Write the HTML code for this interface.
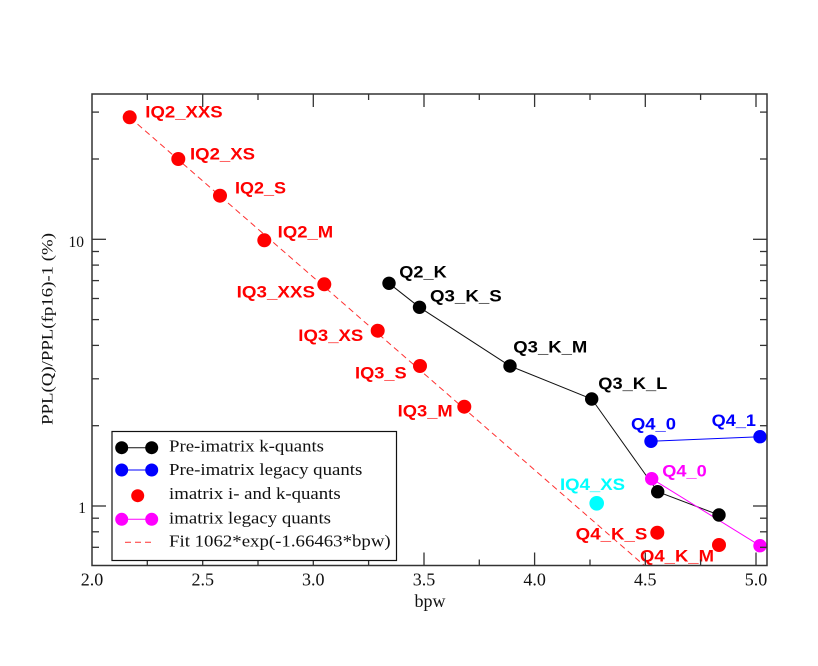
<!DOCTYPE html>
<html><head><meta charset="utf-8"><style>
html,body{margin:0;padding:0;background:#fff;}
svg{display:block;}
.lab{font-family:"Liberation Sans",Arial,sans-serif;font-weight:bold;font-size:16.5px;}
.ser{font-family:"Liberation Serif","Times New Roman",serif;}
</style></head><body>
<svg width="818" height="666" viewBox="0 0 818 666" xmlns="http://www.w3.org/2000/svg">
<rect width="818" height="666" fill="#fff"/>

<!-- fit line -->
<line x1="130" y1="117.6" x2="644.3" y2="565.5" stroke="#ff3030" stroke-width="1" stroke-dasharray="6,4"/>

<!-- black series -->
<polyline points="389,283.3 419.5,307.3 510,366 591.7,399 657.7,491.7 719,515" fill="none" stroke="#111" stroke-width="1"/>
<!-- blue series -->
<polyline points="651,441.3 760,436.7" fill="none" stroke="#0000ff" stroke-width="1"/>
<!-- magenta series -->
<polyline points="651.7,478.7 760,545.7" fill="none" stroke="#ff00ff" stroke-width="1"/>

<!-- red points -->
<g fill="#ff0000">
<circle cx="129.7" cy="117.3" r="7"/>
<circle cx="178.3" cy="159" r="7"/>
<circle cx="220" cy="195.7" r="7"/>
<circle cx="264.3" cy="240.3" r="7"/>
<circle cx="324.3" cy="284.3" r="7"/>
<circle cx="377.7" cy="330.7" r="7"/>
<circle cx="420" cy="366" r="7"/>
<circle cx="464.3" cy="406.7" r="7"/>
<circle cx="657.3" cy="532.7" r="7"/>
<circle cx="719" cy="545" r="7"/>
</g>
<!-- black points -->
<g fill="#000">
<circle cx="389" cy="283.3" r="6.7"/>
<circle cx="419.5" cy="307.3" r="6.7"/>
<circle cx="510" cy="366" r="6.7"/>
<circle cx="591.7" cy="399" r="6.7"/>
<circle cx="657.7" cy="491.7" r="6.7"/>
<circle cx="719" cy="515" r="6.7"/>
</g>
<!-- blue -->
<g fill="#0000ff">
<circle cx="651" cy="441.3" r="6.7"/>
<circle cx="760" cy="436.7" r="6.7"/>
</g>
<!-- magenta -->
<g fill="#ff00ff">
<circle cx="651.7" cy="478.7" r="6.7"/>
<circle cx="760" cy="545.7" r="6.7"/>
</g>
<!-- cyan -->
<circle cx="596.7" cy="503.3" r="7.3" fill="#00ffff"/>

<!-- labels -->
<g class="lab" fill="#ff0000">
<text x="145.3" y="117.3" textLength="77.4" lengthAdjust="spacingAndGlyphs">IQ2_XXS</text>
<text x="190" y="159.3" textLength="65" lengthAdjust="spacingAndGlyphs">IQ2_XS</text>
<text x="235" y="193.5" textLength="51" lengthAdjust="spacingAndGlyphs">IQ2_S</text>
<text x="277.7" y="237.5" textLength="55.5" lengthAdjust="spacingAndGlyphs">IQ2_M</text>
<text x="236.7" y="297.7" textLength="78.3" lengthAdjust="spacingAndGlyphs">IQ3_XXS</text>
<text x="298.3" y="341" textLength="65" lengthAdjust="spacingAndGlyphs">IQ3_XS</text>
<text x="355" y="378.3" textLength="51.7" lengthAdjust="spacingAndGlyphs">IQ3_S</text>
<text x="397.7" y="416.7" textLength="55" lengthAdjust="spacingAndGlyphs">IQ3_M</text>
<text x="575.7" y="539.3" textLength="71.6" lengthAdjust="spacingAndGlyphs">Q4_K_S</text>
<text x="640" y="561.7" textLength="74" lengthAdjust="spacingAndGlyphs">Q4_K_M</text>
</g>
<g class="lab" fill="#000">
<text x="399.3" y="277.7" textLength="47.4" lengthAdjust="spacingAndGlyphs">Q2_K</text>
<text x="430" y="301.7" textLength="71.7" lengthAdjust="spacingAndGlyphs">Q3_K_S</text>
<text x="513.3" y="352.7" textLength="74" lengthAdjust="spacingAndGlyphs">Q3_K_M</text>
<text x="598.3" y="389" textLength="69" lengthAdjust="spacingAndGlyphs">Q3_K_L</text>
</g>
<g class="lab" fill="#0000ff">
<text x="631" y="429.3" textLength="45" lengthAdjust="spacingAndGlyphs">Q4_0</text>
<text x="711.7" y="426" textLength="44.3" lengthAdjust="spacingAndGlyphs">Q4_1</text>
</g>
<text class="lab" fill="#ff00ff" x="662.3" y="476.7" textLength="44.4" lengthAdjust="spacingAndGlyphs">Q4_0</text>
<text class="lab" fill="#00ffff" x="560" y="490" textLength="65" lengthAdjust="spacingAndGlyphs">IQ4_XS</text>

<!-- axes frame -->
<rect x="92" y="94" width="675" height="471.5" fill="none" stroke="#333" stroke-width="1.5"/>

<!-- x ticks -->
<g stroke="#333" stroke-width="1.3">
<!-- bottom major -->
<line x1="202.7" y1="565.5" x2="202.7" y2="552.5"/>
<line x1="313.3" y1="565.5" x2="313.3" y2="552.5"/>
<line x1="424" y1="565.5" x2="424" y2="552.5"/>
<line x1="534.6" y1="565.5" x2="534.6" y2="552.5"/>
<line x1="645.3" y1="565.5" x2="645.3" y2="552.5"/>
<line x1="756" y1="565.5" x2="756" y2="552.5"/>
<!-- bottom minor -->
<line x1="147.3" y1="565.5" x2="147.3" y2="559.5"/>
<line x1="258" y1="565.5" x2="258" y2="559.5"/>
<line x1="368.6" y1="565.5" x2="368.6" y2="559.5"/>
<line x1="479.3" y1="565.5" x2="479.3" y2="559.5"/>
<line x1="590" y1="565.5" x2="590" y2="559.5"/>
<line x1="700.6" y1="565.5" x2="700.6" y2="559.5"/>
<!-- top major -->
<line x1="202.7" y1="94" x2="202.7" y2="107"/>
<line x1="313.3" y1="94" x2="313.3" y2="107"/>
<line x1="424" y1="94" x2="424" y2="107"/>
<line x1="534.6" y1="94" x2="534.6" y2="107"/>
<line x1="645.3" y1="94" x2="645.3" y2="107"/>
<line x1="756" y1="94" x2="756" y2="107"/>
<!-- top minor -->
<line x1="147.3" y1="94" x2="147.3" y2="100"/>
<line x1="258" y1="94" x2="258" y2="100"/>
<line x1="368.6" y1="94" x2="368.6" y2="100"/>
<line x1="479.3" y1="94" x2="479.3" y2="100"/>
<line x1="590" y1="94" x2="590" y2="100"/>
<line x1="700.6" y1="94" x2="700.6" y2="100"/>

<!-- y ticks left major -->
<line x1="92" y1="239.3" x2="106" y2="239.3"/>
<line x1="92" y1="506" x2="106" y2="506"/>
<!-- right major -->
<line x1="767" y1="239.3" x2="753" y2="239.3"/>
<line x1="767" y1="506" x2="753" y2="506"/>
</g>
<g stroke="#333" stroke-width="1.3">
<!-- left minor: 0.7,0.8,0.9,2..9,20,30 -->
<line x1="92" y1="547.3" x2="99" y2="547.3"/>
<line x1="92" y1="531.8" x2="99" y2="531.8"/>
<line x1="92" y1="518.2" x2="99" y2="518.2"/>
<line x1="92" y1="425.7" x2="99" y2="425.7"/>
<line x1="92" y1="378.8" x2="99" y2="378.8"/>
<line x1="92" y1="345.4" x2="99" y2="345.4"/>
<line x1="92" y1="319.6" x2="99" y2="319.6"/>
<line x1="92" y1="298.5" x2="99" y2="298.5"/>
<line x1="92" y1="280.6" x2="99" y2="280.6"/>
<line x1="92" y1="265.1" x2="99" y2="265.1"/>
<line x1="92" y1="251.5" x2="99" y2="251.5"/>
<line x1="92" y1="159" x2="99" y2="159"/>
<line x1="92" y1="112.1" x2="99" y2="112.1"/>
<!-- right minor -->
<line x1="767" y1="547.3" x2="760" y2="547.3"/>
<line x1="767" y1="531.8" x2="760" y2="531.8"/>
<line x1="767" y1="518.2" x2="760" y2="518.2"/>
<line x1="767" y1="425.7" x2="760" y2="425.7"/>
<line x1="767" y1="378.8" x2="760" y2="378.8"/>
<line x1="767" y1="345.4" x2="760" y2="345.4"/>
<line x1="767" y1="319.6" x2="760" y2="319.6"/>
<line x1="767" y1="298.5" x2="760" y2="298.5"/>
<line x1="767" y1="280.6" x2="760" y2="280.6"/>
<line x1="767" y1="265.1" x2="760" y2="265.1"/>
<line x1="767" y1="251.5" x2="760" y2="251.5"/>
<line x1="767" y1="159" x2="760" y2="159"/>
<line x1="767" y1="112.1" x2="760" y2="112.1"/>
</g>

<!-- tick labels -->
<g class="ser" font-size="18" fill="#111" text-anchor="middle">
<text x="92" y="585.5">2.0</text>
<text x="202.7" y="585.5">2.5</text>
<text x="313.3" y="585.5">3.0</text>
<text x="424" y="585.5">3.5</text>
<text x="534.6" y="585.5">4.0</text>
<text x="645.3" y="585.5">4.5</text>
<text x="756" y="585.5">5.0</text>
<text x="430" y="607">bpw</text>
</g>
<g class="ser" font-size="15.5" fill="#111" text-anchor="end">
<text x="84" y="247">10</text>
<text x="86" y="513">1</text>
</g>
<text class="ser" font-size="15.5" fill="#111" text-anchor="middle" transform="translate(52.7,329) rotate(-90)" textLength="192" lengthAdjust="spacingAndGlyphs">PPL(Q)/PPL(fp16)-1 (%)</text>

<!-- legend -->
<rect x="112" y="431.5" width="284.5" height="129" fill="#fff" stroke="#111" stroke-width="1.2"/>
<line x1="121.7" y1="447.7" x2="151.7" y2="447.7" stroke="#111" stroke-width="1"/>
<circle cx="121.7" cy="447.7" r="6.5" fill="#000"/>
<circle cx="151.7" cy="447.7" r="6.5" fill="#000"/>
<line x1="121.7" y1="470" x2="151.7" y2="470" stroke="#0000ff" stroke-width="1"/>
<circle cx="121.7" cy="470" r="6.5" fill="#0000ff"/>
<circle cx="151.7" cy="470" r="6.5" fill="#0000ff"/>
<circle cx="137.7" cy="495.7" r="6.5" fill="#ff0000"/>
<line x1="121.7" y1="519.3" x2="151.7" y2="519.3" stroke="#ff00ff" stroke-width="1"/>
<circle cx="121.7" cy="519.3" r="6.5" fill="#ff00ff"/>
<circle cx="151.7" cy="519.3" r="6.5" fill="#ff00ff"/>
<line x1="125" y1="542.3" x2="154" y2="542.3" stroke="#ff3030" stroke-width="1" stroke-dasharray="6,4"/>
<g class="ser" font-size="16.5" fill="#111">
<text x="169" y="451.7" textLength="155" lengthAdjust="spacingAndGlyphs">Pre-imatrix k-quants</text>
<text x="169" y="475" textLength="193.3" lengthAdjust="spacingAndGlyphs">Pre-imatrix legacy quants</text>
<text x="169" y="499" textLength="171.7" lengthAdjust="spacingAndGlyphs">imatrix i- and k-quants</text>
<text x="169" y="523.3" textLength="162" lengthAdjust="spacingAndGlyphs">imatrix legacy quants</text>
<text x="169" y="546.7" textLength="221.7" lengthAdjust="spacingAndGlyphs">Fit 1062*exp(-1.66463*bpw)</text>
</g>
</svg>
</body></html>
